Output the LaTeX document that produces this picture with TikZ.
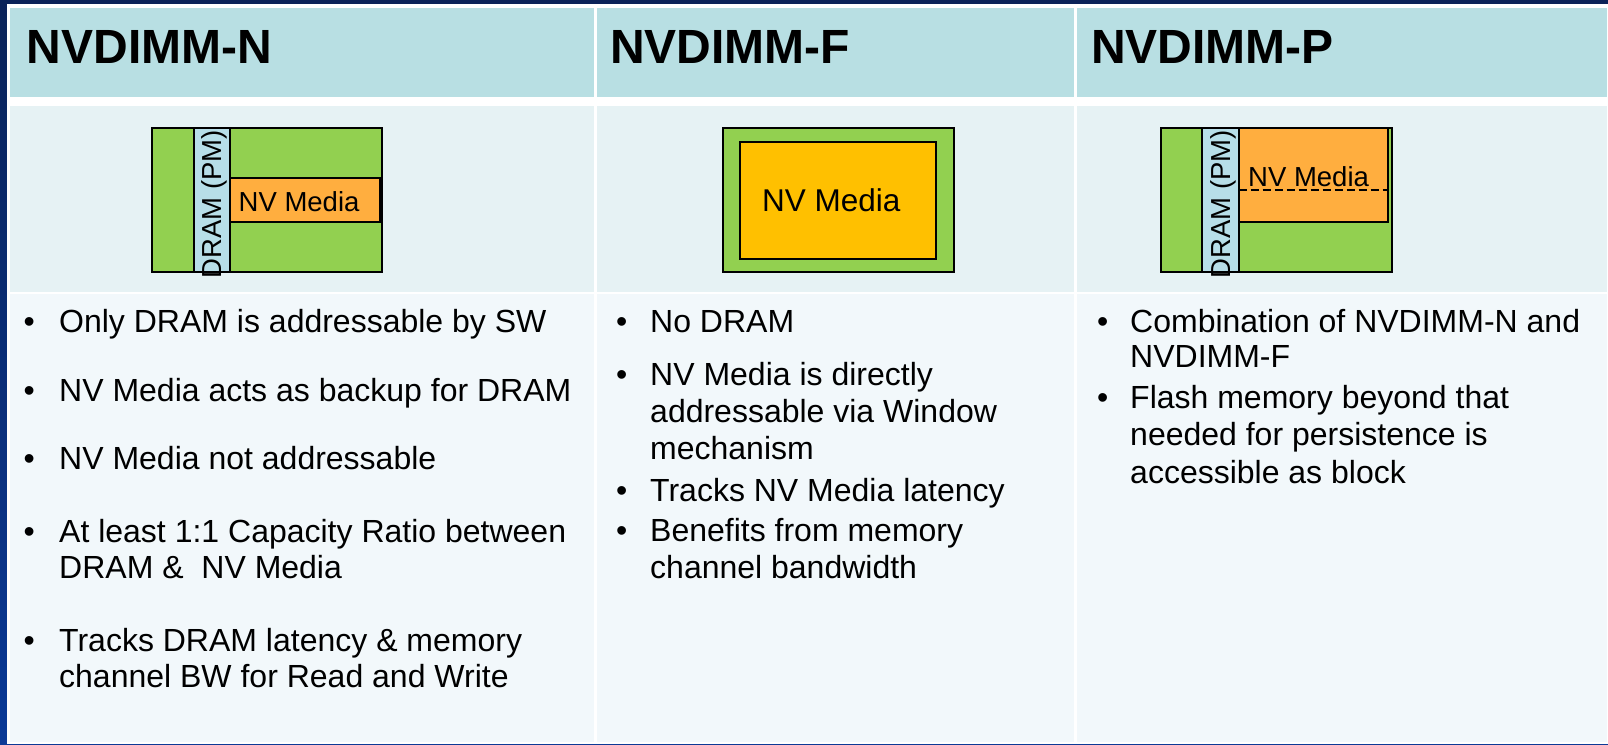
\documentclass[tikz,border=0pt]{standalone}
\usepackage{fontspec}
\setmainfont{Liberation Sans}
\definecolor{navy}{HTML}{0A2258}
\definecolor{borderblue}{HTML}{0D3A96}
\definecolor{headfill}{HTML}{B8DFE3}
\definecolor{diagfill}{HTML}{E6F2F4}
\definecolor{bodyfill}{HTML}{F2F8FB}
\definecolor{dimmgreen}{HTML}{92D050}
\definecolor{dramblue}{HTML}{B7DEE8}
\definecolor{mediaorange}{HTML}{FFAE3F}
\definecolor{mediagold}{HTML}{FFC000}
\begin{document}
\begin{tikzpicture}[x=1pt,y=-1pt,
  head/.style={anchor=base west, inner sep=0, font=\fontsize{48}{56}\selectfont\bfseries},
  item/.style={anchor=base west, inner sep=0, font=\fontsize{32}{37}\selectfont},
  lbl/.style={anchor=base west, inner sep=0, font=\fontsize{27.5}{32}\selectfont},
  bigl/.style={anchor=base west, inner sep=0, font=\fontsize{31.5}{36}\selectfont},
  box/.style={draw=black, line width=2pt, line join=miter}]
\useasboundingbox (0,0) rectangle (1608,744);

% frame
\shade[top color=navy, bottom color=borderblue] (0,0) rectangle (1608,744);
\fill[navy] (0,0) rectangle (1608,4);
\fill[white] (7,4) rectangle (1608,744);

% table cells
\fill[headfill] (10,7.5) rectangle (594.3,96.8);
\fill[headfill] (597,7.5) rectangle (1074.3,96.8);
\fill[headfill] (1077,7.5) rectangle (1607,96.8);
\fill[diagfill] (10,106) rectangle (594.3,291.7);
\fill[diagfill] (597,106) rectangle (1074.3,291.7);
\fill[diagfill] (1077,106) rectangle (1607,291.7);
\fill[bodyfill] (10,294.3) rectangle (594.3,742);
\fill[bodyfill] (597,294.3) rectangle (1074.3,742);
\fill[bodyfill] (1077,294.3) rectangle (1607,742);

% headings
\node[head] (hN) at (26.5,63) {NVDIMM-N};
\node[head] (hF) at (610,63) {NVDIMM-F};
\node[head] (hP) at (1091,63) {NVDIMM-P};

% NVDIMM-N module
\draw[box, fill=dimmgreen] (152,127.5) rectangle (382,272);
\draw[box, fill=dramblue] (193.5,127.5) rectangle (229.5,272);
\draw[box, fill=mediaorange] (229.5,178) rectangle (379.5,222);
\node[lbl] (nMedia) at (238.5,211) {NV Media};
\node[lbl, rotate=90] (nDram) at (221.5,278.5) {DRAM (PM)};

% NVDIMM-F module
\draw[box, fill=dimmgreen] (722.5,127.5) rectangle (954,272);
\draw[box, fill=mediagold] (740,141.5) rectangle (936,259);
\node[bigl] (fMedia) at (762,211.7) {NV Media};

% NVDIMM-P module
\draw[box, fill=dimmgreen] (1161,127.5) rectangle (1391.5,272);
\draw[box, fill=dramblue] (1202,127.5) rectangle (1238.5,272);
\draw[box, fill=mediaorange] (1238.5,127.5) rectangle (1387.5,221.5);
\node[lbl] (pMedia) at (1248,186) {NV Media};
\draw[line width=2pt, dash pattern=on 8pt off 4pt] (1238.5,190) -- (1387.5,190);
\node[lbl, rotate=90] (pDram) at (1230.7,278.5) {DRAM (PM)};

% NVDIMM-N bullets
\foreach \y in {332,401,469.5,542,651} \node[item] at (23.5,\y) {•};
\node[item] (n1) at (59,332) {Only DRAM is addressable by SW};
\node[item] (n2) at (59,401) {NV Media acts as backup for DRAM};
\node[item] (n3) at (59,469.5) {NV Media not addressable};
\node[item] (n4a) at (59,542) {At least 1:1 Capacity Ratio between};
\node[item] (n4b) at (59,578) {DRAM \&~~NV Media};
\node[item] (n5a) at (59,651) {Tracks DRAM latency \& memory};
\node[item] (n5b) at (59,687) {channel BW for Read and Write};

% NVDIMM-F bullets
\foreach \y in {332,385,501,541} \node[item] at (616,\y) {•};
\node[item] (f1) at (650,332) {No DRAM};
\node[item] (f2a) at (650,385) {NV Media is directly};
\node[item] (f2b) at (650,422) {addressable via Window};
\node[item] (f2c) at (650,459) {mechanism};
\node[item] (f3) at (650,501) {Tracks NV Media latency};
\node[item] (f4a) at (650,541) {Benefits from memory};
\node[item] (f4b) at (650,578) {channel bandwidth};

% NVDIMM-P bullets
\foreach \y in {332,408} \node[item] at (1097,\y) {•};
\node[item] (p1a) at (1130,332) {Combination of NVDIMM-N and};
\node[item] (p1b) at (1130,367) {NVDIMM-F};
\node[item] (p2a) at (1130,408) {Flash memory beyond that};
\node[item] (p2b) at (1130,445) {needed for persistence is};
\node[item] (p2c) at (1130,483) {accessible as block};
\end{tikzpicture}
\end{document}
